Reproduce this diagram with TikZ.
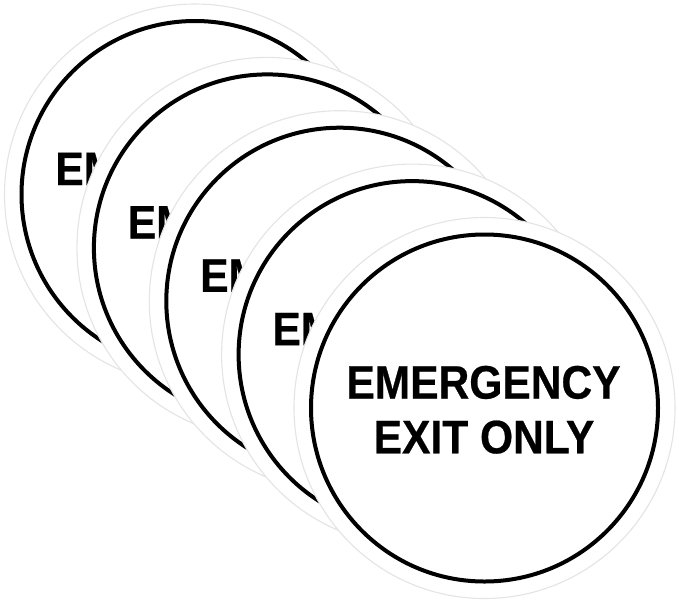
\documentclass[tikz,border=0pt]{standalone}
\usepackage{fontspec}
\setmainfont[BoldFeatures={FakeStretch=0.905,FakeBold=0.5}]{Liberation Sans}
\definecolor{edgegray}{HTML}{E4E4E4}
\tikzset{
  sticker/.style={circle,draw=edgegray,line width=1.1pt,fill=white,minimum size=381pt,inner sep=0pt},
  ring/.style={circle,draw=black,line width=4pt,fill=white,minimum size=347pt,inner sep=0pt},
  signtext/.style={inner sep=0pt,text=black,font=\fontsize{47}{55}\selectfont\bfseries}
}
\begin{document}
\begin{tikzpicture}[x=1pt,y=-1pt]
\useasboundingbox (0,0) rectangle (679,603);
\fill[white] (0,0) rectangle (679,603);
\foreach \i/\cx/\cy in {1/195/194.5,2/267.4/247.9,3/339.8/301.2,4/412.1/354.6}{
  \node[sticker] (outer\i) at (\cx,\cy) {};
  \node[ring] (inner\i) at (\cx,\cy) {};
  \node[signtext,anchor=base west] (lineA\i) at (\cx-139.8,\cy-9.4) {EM};
}
\node[sticker] (outer5) at (484.5,408) {};
\node[ring] (inner5) at (484.5,408) {};
\node[signtext,anchor=base] (lineA5) at (483.5,398.6) {EMERGENCY};
\node[signtext,anchor=base] (lineB5) at (484,453.3) {EXIT ONLY};
\end{tikzpicture}
\end{document}
